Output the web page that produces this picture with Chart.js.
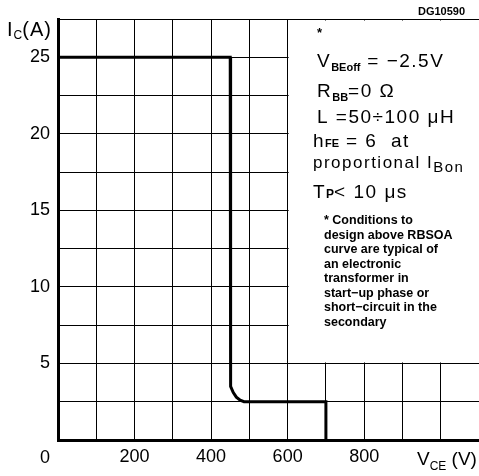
<!DOCTYPE html>
<html>
<head>
<meta charset="utf-8">
<script src="https://cdn.jsdelivr.net/npm/chart.js@4.4.1/dist/chart.umd.min.js"></script>
<style>
  html, body { margin: 0; padding: 0; background: #fff; }
  canvas { display: block; }
</style>
</head>
<body>
<canvas id="rbsoa" width="479" height="476"></canvas>
<script>
// RBSOA curve: VCE (V) vs IC (A)
const vce = [0, 450, 450, 452, 458, 466, 476, 486, 700, 700];
const ic = [25, 25, 4.0, 3.5, 3.1, 2.8, 2.6, 2.5, 2.5, 0];
const xLabels = [200, 400, 600, 800];
const yLabels = [5, 10, 15, 20, 25];
const notes = [
  '* Conditions to',
  'design above RBSOA',
  'curve are typical of',
  'an electronic',
  'transformer in',
  'start\u2212up phase or',
  'short\u2212circuit in the',
  'secondary'
];

const points = vce.map((v, i) => ({ x: v, y: ic[i] }));
const FONT = '"Liberation Sans", Arial, sans-serif';

// draw text made of pieces: [text, size, dy, bold]
function rich(ctx, x, y, parts, spacing) {
  let cx = x;
  parts.forEach(p => {
    ctx.font = (p[3] ? 'bold ' : '') + p[1] + 'px ' + FONT;
    // small subscripts keep normal spacing
    ctx.letterSpacing = (p[1] >= 15 ? (spacing || 0) : 0) + 'px';
    ctx.fillText(p[0], cx, y + (p[2] || 0));
    cx += ctx.measureText(p[0]).width;
  });
  ctx.letterSpacing = '0px';
}

const extras = {
  id: 'extras',
  beforeDatasetsDraw(chart) {
    const { ctx, chartArea: a, scales } = chart;
    // white box covering grid under the notes
    const x0 = scales.x.getPixelForValue(600) + 1;
    const y1 = scales.y.getPixelForValue(5) - 1;
    ctx.save();
    ctx.fillStyle = '#fff';
    ctx.fillRect(x0, a.top + 1.5, a.right - x0 + 2, y1 - a.top - 1.5);
    ctx.restore();
  },
  afterDraw(chart) {
    const { ctx } = chart;
    ctx.save();
    ctx.fillStyle = '#000';
    ctx.textBaseline = 'alphabetic';
    ctx.textAlign = 'left';
    // axis titles
    rich(ctx, 7, 36, [['I', 20], ['C', 12, 3], ['(A)', 20]], 1);
    rich(ctx, 417, 465, [['V', 19], ['CE', 12, 5], [' (V)', 19]]);
    ctx.font = '18px ' + FONT;
    ctx.fillText('0', 40, 463);
    ctx.font = 'bold 11px ' + FONT;
    ctx.fillText('DG10590', 418, 15);
    // conditions
    rich(ctx, 317, 37, [['*', 13, 0, true]]);
    rich(ctx, 317, 67, [['V', 19], ['BEoff', 11, 4, true], [' = \u22122.5V', 19]], 1.5);
    rich(ctx, 317, 97, [['R', 19], ['BB', 11, 4, true], ['=0 \u03a9', 19]], 1.5);
    rich(ctx, 317, 123, [['L =50\u00f7100 \u03bcH', 19]], 1.5);
    rich(ctx, 313, 147, [['h', 19], ['FE', 11, 0, true], [' = 6  at', 19]], 1.5);
    rich(ctx, 313, 168, [['proportional I', 17], ['Bon', 15, 4]], 1.5);
    rich(ctx, 313, 198, [['T', 19], ['P', 12, 0, true], ['< 10 \u03bcs', 19]], 1.5);
    ctx.font = 'bold 12.5px ' + FONT;
    notes.forEach((t, i) => ctx.fillText(t, 324, 224 + i * 14.5));
    ctx.restore();
  }
};

new Chart(document.getElementById('rbsoa'), {
  type: 'scatter',
  data: {
    datasets: [{
      data: points,
      showLine: true,
      borderColor: '#000',
      borderWidth: 3,
      pointRadius: 0,
      tension: 0
    }]
  },
  options: {
    responsive: false,
    animation: false,
    layout: { padding: { top: 19, right: 0, left: 0, bottom: 0 } },
    plugins: { legend: { display: false }, tooltip: { enabled: false } },
    scales: {
      x: {
        type: 'linear',
        min: 0,
        max: 1100,
        afterFit: s => { s.height = 36; s.paddingLeft = 0; s.paddingRight = 0; },
        ticks: {
          stepSize: 100,
          padding: 6,
          color: '#000',
          font: { family: FONT, size: 18 },
          callback: v => xLabels.includes(v) ? String(v) : ''
        },
        grid: { color: '#000', lineWidth: 1, drawTicks: false },
        border: { color: '#000', width: 3 }
      },
      y: {
        min: 0,
        max: 27.5,
        afterFit: s => { s.width = 58; s.paddingTop = 0; s.paddingBottom = 0; },
        ticks: {
          stepSize: 2.5,
          padding: 8,
          color: '#000',
          font: { family: FONT, size: 18 },
          callback: v => yLabels.includes(v) ? String(v) : ''
        },
        grid: { color: '#000', lineWidth: 1, drawTicks: false },
        border: { color: '#000', width: 3 }
      }
    }
  },
  plugins: [extras]
});
</script>
</body>
</html>
